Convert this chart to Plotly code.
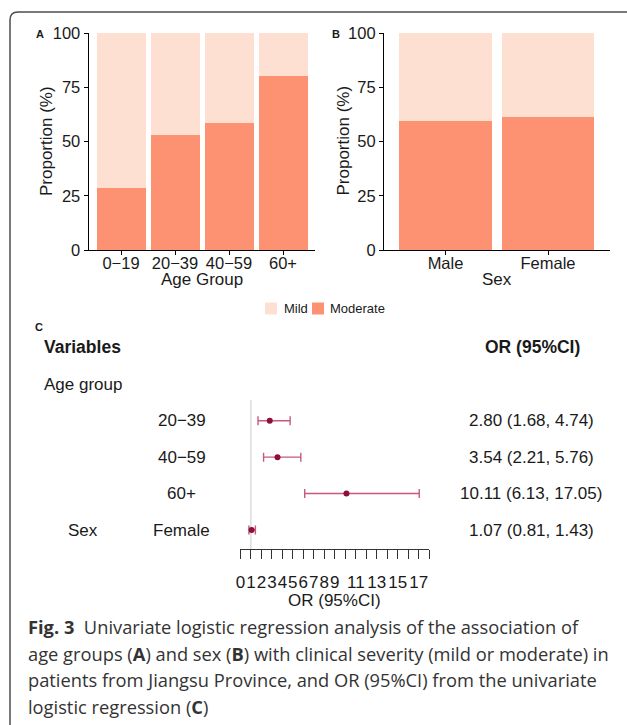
import plotly.graph_objects as go

W, H = 627, 725


def px(x):
    return x / W


def py(y):
    return 1 - y / H


# ---------------- data ----------------
age_groups = ["0−19", "20−39", "40−59", "60+"]
age_moderate = [28.6, 53.0, 58.7, 80.2]
age_mild = [71.4, 47.0, 41.3, 19.8]

sexes = ["Male", "Female"]
sex_moderate = [59.4, 61.2]
sex_mild = [40.6, 38.8]

severity_names = ["Mild", "Moderate"]
prop_ticks = [0, 25, 50, 75, 100]

forest_group = ["", "", "", "Sex"]
forest_labels = ["20−39", "40−59", "60+", "Female"]
or_est = [2.80, 3.54, 10.11, 1.07]
or_low = [1.68, 2.21, 6.13, 0.81]
or_high = [4.74, 5.76, 17.05, 1.43]
or_tickvals = list(range(0, 19))
or_ticktext = ["0", "1", "2", "3", "4", "5", "6", "7", "8", "9", "",
               "11", "", "13", "", "15", "", "17", ""]

caption_lines = [
    "<b>Fig. 3</b>\u00a0 Univariate logistic regression analysis of the association of",
    "age groups (<b>A</b>) and sex (<b>B</b>) with clinical severity (mild or moderate) in",
    "patients from Jiangsu Province, and OR (95%CI) from the univariate",
    "logistic regression (<b>C</b>)",
]

# ---------------- style ----------------
MILD = "#FEE0D2"
MODERATE = "#FC9272"
CI_COL = "#C65A7C"
PT_COL = "#8E1038"
FONT = "Liberation Sans, Arial, sans-serif"
CAP_FONT = "Open Sans, Noto Sans, sans-serif"
TXT = "#1a1a1a"

fig = go.Figure()

# Panel A bars
fig.add_trace(go.Bar(x=age_groups, y=age_moderate, name=severity_names[1],
                     marker=dict(color=MODERATE, line=dict(width=0)),
                     width=0.9, xaxis="x", yaxis="y", showlegend=False))
fig.add_trace(go.Bar(x=age_groups, y=age_mild, name=severity_names[0],
                     marker=dict(color=MILD, line=dict(width=0)),
                     width=0.9, xaxis="x", yaxis="y", showlegend=False))
# Panel B bars
fig.add_trace(go.Bar(x=sexes, y=sex_moderate, name=severity_names[1],
                     marker=dict(color=MODERATE, line=dict(width=0)),
                     width=0.9, xaxis="x2", yaxis="y2", showlegend=False))
fig.add_trace(go.Bar(x=sexes, y=sex_mild, name=severity_names[0],
                     marker=dict(color=MILD, line=dict(width=0)),
                     width=0.9, xaxis="x2", yaxis="y2", showlegend=False))

# Panel C forest
n = len(or_est)
rows = [n - i for i in range(n)]
fig.add_trace(go.Scatter(
    x=or_est, y=rows, mode="markers",
    marker=dict(color=PT_COL, size=6),
    error_x=dict(type="data", symmetric=False,
                 array=[h - e for h, e in zip(or_high, or_est)],
                 arrayminus=[e - l for e, l in zip(or_est, or_low)],
                 color=CI_COL, thickness=1.4, width=4.5),
    xaxis="x3", yaxis="y3", showlegend=False, cliponaxis=False))

axis_common = dict(showline=True, linecolor="black", linewidth=1.1,
                   ticks="outside", ticklen=4, tickcolor="black", tickwidth=1.1,
                   showgrid=False, zeroline=False, fixedrange=True, automargin=False,
                   tickangle=0,
                   tickfont=dict(family=FONT, size=16.5, color=TXT))

fig.update_layout(
    width=W, height=H, autosize=False,
    margin=dict(l=0, r=0, t=0, b=0, pad=0, autoexpand=False),
    paper_bgcolor="white", plot_bgcolor="white",
    barmode="stack", bargap=0,
    font=dict(family=FONT, color=TXT),
    xaxis=dict(domain=[px(88.6), px(315.4)], range=[-0.6, 3.6], type="category",
               anchor="y", ticklabelstandoff=-6, **axis_common),
    yaxis=dict(domain=[py(250), py(33)], range=[0, 100], tickvals=prop_ticks,
               anchor="x", **axis_common),
    xaxis2=dict(domain=[px(384), px(609.5)], range=[-0.6, 1.6], type="category",
                anchor="y2", ticklabelstandoff=-6, **axis_common),
    yaxis2=dict(domain=[py(250), py(33)], range=[0, 100], tickvals=prop_ticks,
                anchor="x2", **axis_common),
    xaxis3=dict(domain=[px(240.4), px(429.2)], range=[0, 18], anchor="y3",
                tickvals=or_tickvals, ticktext=or_ticktext, tickangle=0,
                showline=True, linecolor="#333333", linewidth=1,
                ticks="outside", ticklen=9, tickcolor="#333333", tickwidth=1,
                ticklabelstandoff=9, automargin=False,
                showgrid=False, zeroline=False, fixedrange=True,
                tickfont=dict(family=FONT, size=17, color=TXT)),
    yaxis3=dict(domain=[py(549), py(400)], range=[0.4785, 4.568], anchor="x3",
                visible=False, fixedrange=True, automargin=False),
)

shapes = []
# reference line at OR = 1
shapes.append(dict(type="line", xref="x3", yref="y3 domain", x0=1, x1=1, y0=0, y1=1,
                   line=dict(color="#D4D4D4", width=1.2), layer="below"))
# outer border (rounded top-left corner)
shapes.append(dict(type="path", xref="paper", yref="paper",
                   path=f"M {px(10)},{py(725)} L {px(10)},{py(20)} "
                        f"Q {px(10)},{py(12)} {px(18)},{py(12)} L {px(627)},{py(12)}",
                   line=dict(color="#4d4d4d", width=1.5)))
# legend swatches
for (x0, col) in [(265, MILD), (312, MODERATE)]:
    shapes.append(dict(type="rect", xref="paper", yref="paper",
                       x0=px(x0), x1=px(x0 + 12), y0=py(314.5), y1=py(302.5),
                       fillcolor=col, line=dict(width=0)))

ann = []


def text(x, y, s, size=17, anchor="left", bold=False, angle=0, family=FONT, color=TXT,
         xref="paper", yref="paper"):
    ann.append(dict(x=x, y=y, xref=xref, yref=yref, text=(f"<b>{s}</b>" if bold else s),
                    showarrow=False, xanchor=anchor, yanchor="middle", textangle=angle,
                    font=dict(family=family, size=size, color=color), borderpad=0))


# panel labels
text(px(35), py(34), "A", size=11, bold=True)
text(px(331), py(34), "B", size=11, bold=True)
text(px(34), py(327), "C", size=11, bold=True)

# axis titles for A and B
text(px(46), py(141), "Proportion (%)", anchor="center", angle=-90)
text(px(342.5), py(141), "Proportion (%)", anchor="center", angle=-90)
text(px(202), py(279), "Age Group", anchor="center")
text(px(496.7), py(279), "Sex", anchor="center")

# legend labels
text(px(282.5), py(308.5), severity_names[0], size=13)
text(px(329), py(308.5), severity_names[1], size=13)

# forest table
text(px(43), py(347.5), "Variables", size=17.5, bold=True)
text(px(532), py(347.5), "OR (95%CI)", size=17.5, bold=True, anchor="center")
text(px(43), py(384.5), "Age group", size=17)
for i in range(n):
    text(px(181.5), rows[i], forest_labels[i], anchor="center", yref="y3")
    if forest_group[i]:
        text(px(82.5), rows[i], forest_group[i], anchor="center", yref="y3")
    text(px(531), rows[i], f"{or_est[i]:.2f} ({or_low[i]:.2f}, {or_high[i]:.2f})",
         anchor="center", yref="y3")
text(px(334.8), py(600), "OR (95%CI)", anchor="center")

# caption
for s, yc in zip(caption_lines, [626.7, 653.3, 679.5, 706]):
    text(px(26.5), py(yc), s, size=18.3, family=CAP_FONT, color="#333333")

fig.update_layout(shapes=shapes, annotations=ann)
fig.write_html("out.html", config={"displayModeBar": False},
               post_script="document.body.style.margin='0px';")
